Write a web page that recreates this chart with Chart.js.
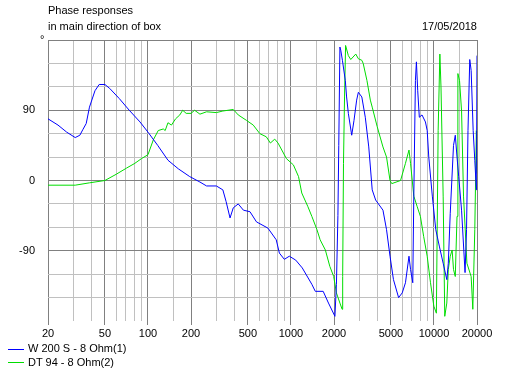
<!DOCTYPE html>
<html>
<head>
<meta charset="utf-8">
<script src="https://cdn.jsdelivr.net/npm/chart.js@4/dist/chart.umd.min.js"></script>
<style>
  body { margin: 0; background: #fff; }
  #wrap { position: relative; width: 517px; height: 374px; font: 11px "Liberation Sans", Arial, sans-serif; color: #000; }
  canvas { position: absolute; left: 0; top: 0; }
  .t { position: absolute; white-space: nowrap; line-height: 13px; }
  .ln { position: absolute; height: 1px; width: 16px; left: 8px; }
</style>
</head>
<body>
<div id="wrap">
  <canvas id="phase" width="517" height="374"></canvas>
  <div class="t" style="left:48px; top:4px;">Phase responses</div>
  <div class="t" style="left:48px; top:20px;">in main direction of box</div>
  <div class="t" style="right:40px; top:20px;">17/05/2018</div>
  <div class="t" style="left:40px; top:33px;">°</div>
  <div class="ln" style="top:349px; background:#0000ff;"></div>
  <div class="t" style="left:28px; top:342px;">W 200 S - 8 Ohm(1)</div>
  <div class="ln" style="top:362px; background:#00dd00;"></div>
  <div class="t" style="left:28px; top:356px;">DT 94 - 8 Ohm(2)</div>
</div>
<script>
// grid / tick layout
const xGrid = [20, 30, 40, 50, 60, 70, 80, 90, 100, 150, 200, 300, 400, 500, 600, 700, 800, 900,
    1000, 1500, 2000, 3000, 4000, 5000, 6000, 7000, 8000, 9000, 10000, 15000, 20000];
const xLabels = [20, 50, 100, 200, 500, 1000, 2000, 5000, 10000, 20000];
const yLabels = [-90, 0, 90];

// W 200 S - 8 Ohm(1)
const wFreq = [20, 23.5, 27, 31, 33.4, 35, 37, 39, 42.6, 45.6, 50, 54, 63, 74, 88, 100, 117, 138, 163, 196,
    231, 257, 301, 334, 352, 375, 395, 428, 465, 517, 574, 690, 789, 830, 899, 974, 1080, 1200, 1400,
    1480, 1680, 1830, 2030, 2080, 2130, 2160, 2200, 2230, 2290, 2400, 2450, 2520, 2660, 2760, 2880,
    2960, 3130, 3310, 3500, 3700, 3910, 4400, 4660, 4930, 5210, 5660, 6000, 6320, 6690, 6860, 7110,
    7230, 7420, 7540, 7700, 7900, 8250, 8720, 8970, 9200, 9740, 10300, 10900, 11600, 12300, 12600,
    13000, 13700, 14100, 14500, 14900, 15600, 16500, 16900, 17300, 17800, 18200, 18800, 19300,
    19800, 19900, 20000];
const wPhase = [79, 71, 62, 55, 58, 65, 73, 94, 115, 123, 123, 118, 105, 90, 75, 62, 45, 26, 15, 5,
    -2, -7, -7, -12, -27, -48, -35, -30, -38, -40, -53, -61, -76, -93, -101, -97, -102, -112, -133,
    -142, -142, -157, -174, -133, -45, 45, 171, 167, 154, 128, 107, 86, 58, 77, 103,
    113, 107, 81, 43, -12, -25, -38, -63, -97, -127, -150, -144, -131, -97, -114, -131,
    -20, 128, 152, 115, 81, 84, 75, 64, 30, -20, -63, -84, -106, -127, -106,
    -42, 45, 58, 30, 5, -38, -118, -63, 64, 155, 141, 64, 26,
    -12, 64, 160];

// DT 94 - 8 Ohm(2)
const dtFreq = [20, 31, 39, 50, 60, 71, 81, 90, 100, 109, 118, 128, 132, 138, 146, 156, 167, 175, 185,
    200, 212, 231, 257, 301, 334, 395, 428, 489, 545, 606, 672, 718, 770, 812, 930, 1040, 1130, 1190,
    1310, 1400, 1520, 1600, 1740, 1870, 1990, 2080, 2200, 2280, 2300, 2330, 2370, 2410, 2520, 2620,
    2840, 2960, 3130, 3200, 3400, 3590, 3700, 4010, 4400, 4660, 4930, 5070, 5840, 6320, 6690, 6860,
    7230, 7620, 8040, 8480, 8970, 9460, 9980, 10400, 10700, 11000, 11200, 11600, 11900, 12300, 12600,
    13000, 13400, 13700, 14100, 14500, 14700, 15100, 15600, 16100, 17000, 18200, 18700, 19300,
    19800, 20000];
const dtPhase = [-6, -6, -3, 0, 8, 16, 22, 28, 33, 52, 64, 66, 64, 74, 71, 79, 84, 90, 86,
    86, 90, 85, 88, 87, 89, 91, 84, 77, 71, 60, 56, 48, 53, 48, 28, 20, 5, -16,
    -33, -46, -63, -76, -89, -110, -123, -144, -157, -165, -123, 22, 107, 173, 160, 155,
    162, 156, 154, 150, 128, 103, 94, 69, 43, 30, 0, -4, 0, 22, 39, 22,
    -20, -33, -46, -72, -97, -131, -161, -170, 64, 162, 120, -20, -174, -157, -114,
    -97, -89, -114, -123, -46, 137, 128, 89, -20, -106, -123, -165, -63,
    64, 9];

const toPoints = (fs, ps) => fs.map((f, i) => ({ x: f, y: ps[i] }));
const tickFont = { family: '"Liberation Sans", Arial, sans-serif', size: 11 };

new Chart(document.getElementById('phase'), {
    type: 'line',
    data: {
        datasets: [{
            label: 'W 200 S - 8 Ohm(1)',
            data: toPoints(wFreq, wPhase),
            borderColor: '#0000ff',
            borderWidth: 1,
            pointRadius: 0,
            tension: 0
        }, {
            label: 'DT 94 - 8 Ohm(2)',
            data: toPoints(dtFreq, dtPhase),
            borderColor: '#00dd00',
            borderWidth: 1,
            pointRadius: 0,
            tension: 0
        }]
    },
    options: {
        responsive: false,
        animation: false,
        layout: { padding: { top: 40, right: 40, left: 0, bottom: 0 } },
        plugins: { legend: { display: false }, tooltip: { enabled: false } },
        scales: {
            x: {
                type: 'logarithmic',
                min: 20,
                max: 20000,
                afterBuildTicks: axis => { axis.ticks = xGrid.map(v => ({ value: v })); },
                afterFit: scale => { scale.height = 53; },
                border: { display: false },
                grid: {
                    color: c => xLabels.includes(c.tick.value) ? '#808080' : '#c0c0c0',
                    tickColor: c => xLabels.includes(c.tick.value) ? '#808080' : 'rgba(0,0,0,0)',
                    tickLength: 4
                },
                ticks: {
                    autoSkip: false,
                    maxRotation: 0,
                    padding: 2,
                    color: '#000',
                    font: tickFont,
                    callback: v => xLabels.includes(v) ? String(v) : ''
                }
            },
            y: {
                min: -180,
                max: 180,
                afterBuildTicks: axis => {
                    const t = [];
                    for (let v = -180; v <= 180; v += 10) t.push({ value: v });
                    axis.ticks = t;
                },
                afterFit: scale => { scale.width = 48; },
                border: { display: false },
                grid: {
                    drawTicks: false,
                    color: c => c.tick.value === -180 ? 'rgba(0,0,0,0)'
                        : (c.tick.value % 90 === 0 ? '#808080' : '#c0c0c0')
                },
                ticks: {
                    padding: 13,
                    color: '#000',
                    font: tickFont,
                    callback: v => yLabels.includes(v) ? String(v) : ''
                }
            }
        }
    }
});
</script>
</body>
</html>
